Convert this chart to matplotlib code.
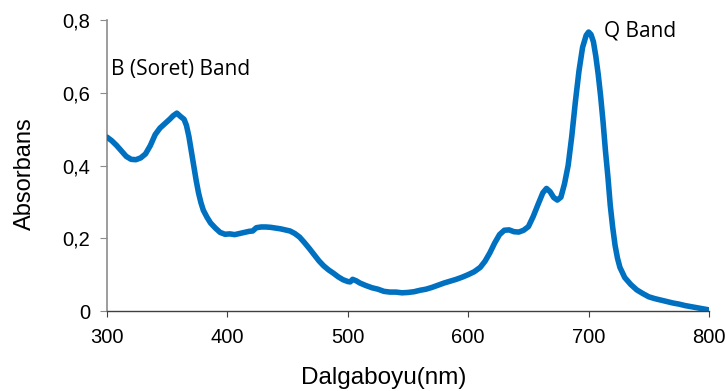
import matplotlib
matplotlib.use("Agg")
import matplotlib.pyplot as plt
from matplotlib.ticker import FuncFormatter

wavelength = [300, 304, 308, 312, 316, 320, 324, 328, 332, 336, 340, 344, 348, 352, 355, 358,
              361, 364, 366, 368, 370, 372, 374, 376, 378, 380, 383, 386, 390, 394, 398, 402,
              406, 410, 414, 418, 421, 424, 428, 432, 436, 440, 444, 448, 452, 456, 460, 464,
              468, 472, 476, 480, 484, 488, 492, 496, 500, 502, 504, 507, 510, 515, 520, 525,
              530, 535, 540, 545, 550, 555, 560, 565, 570, 575, 580, 585, 590, 595, 600, 605,
              610, 614, 618, 622, 626, 630, 634, 638, 642, 646, 650, 654, 658, 662, 665, 668,
              671, 674, 677, 680, 683, 686, 689, 692, 695, 698, 700, 702, 704, 706, 708, 710,
              712, 714, 716, 718, 720, 722, 724, 726, 730, 735, 740, 745, 750, 755, 760, 765,
              770, 775, 780, 785, 790, 795, 800]
absorbance = [0.478, 0.468, 0.455, 0.440, 0.425, 0.417, 0.416, 0.421, 0.432, 0.455, 0.485, 0.503,
              0.515, 0.527, 0.537, 0.544, 0.535, 0.527, 0.510, 0.480, 0.440, 0.400, 0.360, 0.325,
              0.298, 0.277, 0.258, 0.242, 0.228, 0.216, 0.211, 0.212, 0.210, 0.213, 0.216, 0.219,
              0.220, 0.229, 0.231, 0.231, 0.230, 0.228, 0.226, 0.223, 0.220, 0.213, 0.203, 0.188,
              0.172, 0.155, 0.138, 0.124, 0.113, 0.104, 0.094, 0.086, 0.081, 0.080, 0.087, 0.083,
              0.077, 0.070, 0.064, 0.060, 0.054, 0.052, 0.052, 0.050, 0.051, 0.053, 0.057, 0.060,
              0.065, 0.071, 0.077, 0.082, 0.087, 0.093, 0.100, 0.108, 0.120, 0.137, 0.160, 0.187,
              0.210, 0.222, 0.223, 0.218, 0.217, 0.222, 0.232, 0.260, 0.293, 0.325, 0.337, 0.328,
              0.312, 0.305, 0.313, 0.350, 0.400, 0.480, 0.575, 0.660, 0.725, 0.758, 0.767, 0.760,
              0.740, 0.700, 0.650, 0.590, 0.520, 0.440, 0.370, 0.290, 0.230, 0.180, 0.145, 0.120,
              0.092, 0.073, 0.058, 0.048, 0.039, 0.034, 0.030, 0.026, 0.022, 0.019, 0.015, 0.012,
              0.009, 0.006, 0.003]

x_ticks = [300, 400, 500, 600, 700, 800]
y_ticks = [0, 0.2, 0.4, 0.6, 0.8]

fig = plt.figure(figsize=(7.26, 3.91), dpi=100)
ax = fig.add_axes([0.1474, 0.2046, 0.8292, 0.7442])
ax.plot(wavelength, absorbance, color="#0070C0", lw=4.0, solid_capstyle="round", solid_joinstyle="round")
ax.set_xlim(300, 800)
ax.set_ylim(0, 0.8)
ax.set_xticks(x_ticks)
ax.set_yticks(y_ticks)
ax.yaxis.set_major_formatter(FuncFormatter(lambda v, p: ("%g" % round(v, 2)).replace(".", ",")))
for s in ["top", "right"]:
    ax.spines[s].set_visible(False)
ax.spines["left"].set_color("#8c8c8c")
ax.spines["bottom"].set_color("#404040")
ax.spines["left"].set_linewidth(1.2)
ax.spines["bottom"].set_linewidth(1.0)
ax.spines["left"].set_zorder(0.5)
ax.tick_params(axis="y", direction="out", length=5, color="#8c8c8c", labelsize=14.5, pad=7)
ax.tick_params(axis="x", direction="out", length=4, color="#404040", labelsize=14.5, pad=8)
for lab in ax.get_xticklabels() + ax.get_yticklabels():
    lab.set_family("Liberation Sans")
ax.set_xlabel("Dalgaboyu(nm)", family="Liberation Sans", fontsize=17.5, va="center")
ax.xaxis.set_label_coords(0.46, -0.230)
ax.set_ylabel("Absorbans", family="Liberation Sans", fontsize=17, va="center")
ax.yaxis.set_label_coords(-0.136, 0.471)
ax.text(303, 0.663, "B (Soret) Band", family="Open Sans", fontsize=15, va="center", ha="left")
ax.text(713, 0.77, "Q Band", family="Open Sans", fontsize=15, va="center", ha="left")
ax.patch.set_alpha(0)
fig.savefig("out.png", dpi=100)
